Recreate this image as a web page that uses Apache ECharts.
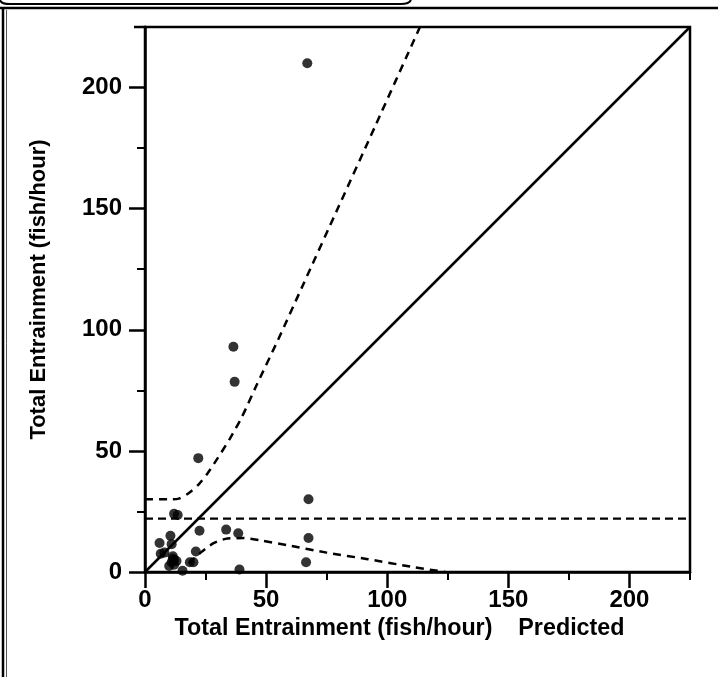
<!DOCTYPE html>
<html>
<head>
<meta charset="utf-8">
<script src="https://cdn.jsdelivr.net/npm/echarts@6/dist/echarts.min.js"></script>
<style>
html,body{margin:0;padding:0;background:#fff;}
#c{width:718px;height:677px;}
</style>
</head>
<body>
<div id="c"></div>
<script>
// Observed vs predicted entrainment (fish/hour): [predicted, observed]
const observedPoints = [
  [67, 210], [36.5, 93], [37, 78.5], [22, 47],
  [67.5, 30], [67.5, 14], [66.5, 4],
  [33.5, 17.5], [38.5, 16], [22.5, 17], [21, 8.5], [20, 4], [18.5, 4], [39, 1], [15.5, 0.5],
  [12, 24], [13.5, 23.5], [6, 12], [10.5, 15], [11, 11.5], [6.5, 7.5], [8, 8],
  [11.5, 6.5], [12, 5], [11, 4], [13, 4.5], [10, 2.5], [12, 3], [11.5, 5.5]
];
// 1:1 line
const identityLine = [[0, 0], [225, 225]];
// upper prediction limit
const upperLimit = [[0, 30], [10, 30], [14, 30.3], [18, 32.5], [22, 36], [26, 41], [30, 47],
  [35, 55], [40, 64], [46, 77], [55, 96], [65, 118], [80, 151], [95, 184], [113.5, 225]];
// lower prediction limit
const lowerLimit = [[18, 3.5], [23, 8], [28.5, 12], [34, 13.8], [41, 14], [48, 13], [59, 11],
  [75, 8], [92, 5.3], [111, 2], [124, 0]];
// mean observed level
const meanLevel = [[0, 22], [225, 22]];
// tick values
const majorTicks = [0, 50, 100, 150, 200];
const minorTicks = [25, 75, 125, 175, 225];
const axisMin = 0, axisMax = 225;

const FONT = '"Liberation Sans", Arial, Helvetica, sans-serif';
const chart = echarts.init(document.getElementById('c'), null, {renderer: 'canvas'});

function mainAxis(isX) {
  return {
    type: 'value', min: axisMin, max: axisMax,
    splitLine: {show: false},
    axisLine: {show: true, onZero: false, lineStyle: {color: '#000', width: 2.5}},
    axisTick: {show: true, inside: false, length: 16, customValues: majorTicks, lineStyle: {color: '#000', width: 2.5}},
    axisLabel: {show: true, customValues: majorTicks, margin: isX ? 16 : 23, color: '#000',
      fontFamily: FONT, fontSize: 24, fontWeight: 'bold'},
    name: isX ? 'Total Entrainment (fish/hour)    Predicted' : 'Total Entrainment (fish/hour)',
    nameLocation: 'middle',
    nameGap: isX ? 42 : 95,
    nameTextStyle: isX
      ? {color: '#000', fontFamily: FONT, fontSize: 23.3, fontWeight: 'bold', padding: [0, 36, 0, 0]}
      : {color: '#000', fontFamily: FONT, fontSize: 22, fontWeight: 'bold', padding: [0, 0, 0, 20]}
  };
}
function minorAxis() {
  return {
    type: 'value', min: axisMin, max: axisMax,
    splitLine: {show: false},
    axisLine: {show: false, onZero: false},
    axisTick: {show: true, inside: false, length: 8, customValues: minorTicks, lineStyle: {color: '#000', width: 2}},
    axisLabel: {show: false}
  };
}

chart.setOption({
  animation: false,
  backgroundColor: '#fff',
  grid: {left: 145, right: 28, top: 27, bottom: 105, show: true, borderColor: '#000', borderWidth: 2.5, backgroundColor: 'transparent'},
  xAxis: [mainAxis(true), Object.assign(minorAxis(), {position: 'bottom'})],
  yAxis: [mainAxis(false), Object.assign(minorAxis(), {position: 'left'})],
  series: [
    {type: 'line', data: identityLine, showSymbol: false, symbol: 'none', lineStyle: {color: '#000', width: 2.5}, z: 3},
    {type: 'line', data: meanLevel, showSymbol: false, symbol: 'none', lineStyle: {color: '#000', width: 2.2, type: [8, 5]}, z: 3},
    {type: 'line', data: upperLimit, smooth: 0.25, showSymbol: false, symbol: 'none', lineStyle: {color: '#000', width: 2.5, type: [8, 6]}, z: 3},
    {type: 'line', data: lowerLimit, smooth: 0.25, showSymbol: false, symbol: 'none', lineStyle: {color: '#000', width: 2.5, type: [8, 6]}, z: 3},
    {type: 'scatter', data: observedPoints, symbol: 'circle', symbolSize: 10, itemStyle: {color: '#000'}, z: 4}
  ],
  graphic: [
    {type: 'line', shape: {x1: 0, y1: 8, x2: 718, y2: 8}, style: {stroke: '#000', lineWidth: 2.5}},
    {type: 'line', shape: {x1: 3, y1: 8, x2: 3, y2: 677}, style: {stroke: '#000', lineWidth: 2.5}},
    {type: 'line', shape: {x1: 6.5, y1: 10, x2: 6.5, y2: 677}, style: {stroke: '#555', lineWidth: 1}},
    {type: 'line', shape: {x1: 134, y1: 27, x2: 146, y2: 27}, style: {stroke: '#000', lineWidth: 2.5}},
    {type: 'bezierCurve', shape: {x1: 0, y1: 0, cpx1: 1, cpy1: 4, x2: 10, y2: 4}, style: {stroke: '#000', fill: null, lineWidth: 2}},
    {type: 'line', shape: {x1: 10, y1: 4, x2: 401, y2: 4}, style: {stroke: '#000', lineWidth: 2}},
    {type: 'bezierCurve', shape: {x1: 401, y1: 4, cpx1: 409, cpy1: 4, x2: 411, y2: 0}, style: {stroke: '#000', fill: null, lineWidth: 2}}
  ]
});
</script>
</body>
</html>
